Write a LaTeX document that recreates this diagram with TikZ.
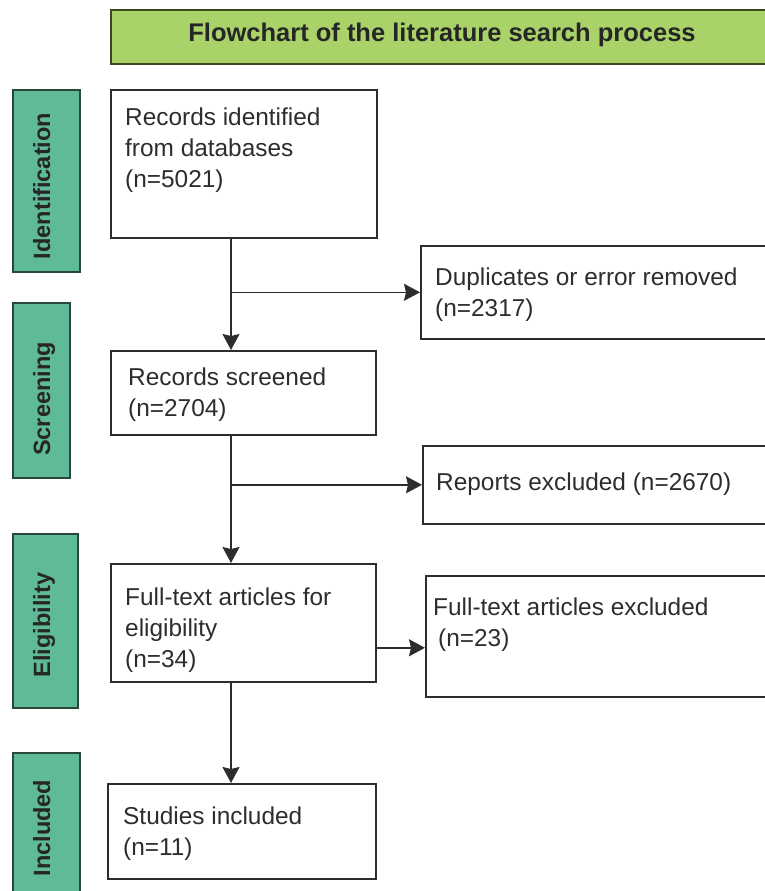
\documentclass[tikz,border=0pt]{standalone}
\usepackage{fontspec}
\setmainfont{Liberation Sans}
\usetikzlibrary{arrows.meta,positioning,calc}
\definecolor{titlegreen}{RGB}{169,211,105}
\definecolor{titleedge}{RGB}{58,72,30}
\definecolor{stagegreen}{RGB}{95,186,152}
\definecolor{stageedge}{RGB}{42,72,58}
\definecolor{inkgray}{RGB}{45,45,45}
\tikzset{
  flowbox/.style={draw=inkgray, line width=1.6pt, rectangle, anchor=north west, inner sep=0pt},
  flowtext/.style={anchor=north west, align=left, inner sep=0pt, text=inkgray, font=\fontsize{24.4}{31}\selectfont},
  stagebox/.style={draw=stageedge, fill=stagegreen, line width=2pt, rectangle, anchor=north west, inner sep=0pt},
  stagetext/.style={rotate=90, anchor=base, inner sep=0pt, text=black!85, font=\bfseries\fontsize{23.5}{28}\selectfont},
  arrow/.style={-{Stealth[length=16pt,width=17pt,inset=2pt]}, draw=inkgray, line width=1.6pt}
}

\begin{document}
\begin{tikzpicture}[x=1pt, y=-1pt]
  \useasboundingbox (0,0) rectangle (765,891);

  \node [draw=titleedge, fill=titlegreen, line width=2pt, anchor=north west, inner sep=0pt, minimum width=660pt, minimum height=54pt] (titlebar) at (110,9) {};
  \node [anchor=base, inner sep=0pt, text=black!85, font=\bfseries\fontsize{25.5}{30}\selectfont] (titletext) at (442,42) {Flowchart of the literature search process};

  \node [stagebox, minimum width=67pt, minimum height=182pt] (identstage) at (12,89) {};
  \node [stagebox, minimum width=57pt, minimum height=175pt] (screenstage) at (12,302) {};
  \node [stagebox, minimum width=65pt, minimum height=174pt] (eligstage) at (12,533) {};
  \node [stagebox, minimum width=67pt, minimum height=150pt] (inclstage) at (12,752) {};
  \node [stagetext] (identlabel) at (50,186) {Identification};
  \node [stagetext] (screenlabel) at (50,399) {Screening};
  \node [stagetext] (eliglabel) at (50,625) {Eligibility};
  \node [stagetext] (incllabel) at (50,828) {Included};

  \node [flowbox, minimum width=266pt, minimum height=148pt] (ident) at (110,89) {};
  \node [flowbox, minimum width=350pt, minimum height=93pt] (dupl) at (420,245) {};
  \node [flowbox, minimum width=265pt, minimum height=84pt] (screen) at (110,350) {};
  \node [flowbox, minimum width=348pt, minimum height=78pt] (repex) at (422,445) {};
  \node [flowbox, minimum width=265pt, minimum height=118pt] (elig) at (110,563) {};
  \node [flowbox, minimum width=345pt, minimum height=121pt] (ftex) at (425,575) {};
  \node [flowbox, minimum width=268pt, minimum height=95pt] (incl) at (107,783) {};

  \node [flowtext] (identtext) at (125,107.5) {Records identified\\from databases\\(n=5021)};
  \node [flowtext] (dupltext) at (435,267.5) {Duplicates or error removed\\(n=2317)};
  \node [flowtext] (screentext) at (128,367.5) {Records screened\\(n=2704)};
  \node [flowtext] (repextext) at (436,472.5) {Reports excluded (n=2670)};
  \node [flowtext] (eligtext) at (125,587.5) {Full-text articles for\\eligibility\\(n=34)};
  \node [flowtext] (ftextext) at (433,597.5) {Full-text articles excluded\\\hspace{5pt}(n=23)};
  \node [flowtext] (incltext) at (123,806.5) {Studies included\\(n=11)};

  \coordinate (spine) at (231,0);
  \draw [arrow] (ident.south -| spine) -- (screen.north -| spine);
  \draw [arrow] (spine |- dupl.west) -- (dupl.west);
  \draw [arrow] (screen.south -| spine) -- (elig.north -| spine);
  \draw [arrow] (spine |- repex.west) -- (repex.west);
  \draw [arrow] ([yshift=-25pt]elig.east) -- ([yshift=-25pt]elig.east -| ftex.west);
  \draw [arrow] (elig.south -| spine) -- (incl.north -| spine);
\end{tikzpicture}
\end{document}
